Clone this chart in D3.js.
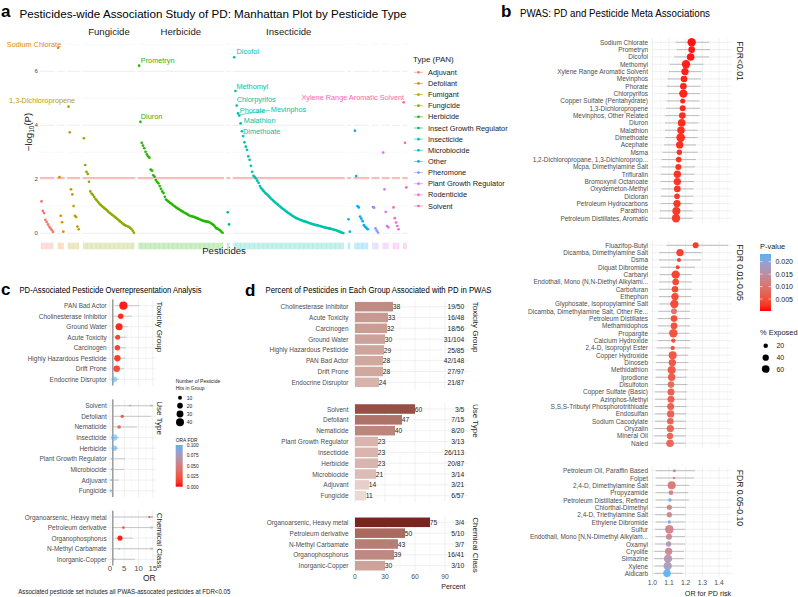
<!DOCTYPE html>
<html><head><meta charset="utf-8">
<script src="https://cdn.jsdelivr.net/npm/d3@7"></script>
<style>
body{margin:0;background:#fff}
svg{display:block}
text{font-family:"Liberation Sans",Arial,Helvetica,sans-serif}
</style>
</head><body>
<svg id="chart" width="798" height="597"></svg>
<script>
// ===================== DATA =====================
// Panel a: Manhattan plot, -log10(P) per pesticide, grouped by PAN type
const typeNames = ["Adjuvant","Defoliant","Fumigant","Fungicide","Herbicide","Insect Growth Regulator","Insecticide","Microbiocide","Other","Pheromone","Plant Growth Regulator","Rodenticide","Solvent"];
const typeColors = ["#F8766D","#E18A00","#BE9C00","#8CAB00","#24B700","#00BE70","#00C1AB","#00BBDA","#00ACFC","#8B93FF","#D575FE","#F962DD","#FF65AC"];
const logpAdjuvant = [1.18,0.83,0.75,0.5,0.42,0.33,0.25,0.18,0.12,0.05];
const logpDefoliant = [6.87,2.08,0.65,0.41,0.06];
const logpFumigant = [4.69,3.74,1.63,1.44,1.01,0.65,0.6,0.25,0.15];
const logpFungicide = [3.52,2.53,2.28,2.2,1.91,1.55,1.47,1.42,1.35,1.28,1.22,1.16,1.1,1.05,1.01,0.97,0.93,0.89,0.85,0.8,0.76,0.72,0.68,0.65,0.61,0.57,0.53,0.49,0.45,0.41,0.37,0.33,0.3,0.28,0.26,0.24,0.2,0.16,0.09,0.02];
const logpHerbicide = [6.21,4.13,3.35,3.25,3.15,3.02,2.92,2.85,2.8,2.36,2.32,2.15,2.1,1.97,1.91,1.85,1.75,1.65,1.55,1.49,1.35,1.25,1.21,1.17,1.13,1.1,1.06,1.02,0.99,0.95,0.92,0.89,0.86,0.83,0.8,0.77,0.75,0.72,0.69,0.66,0.64,0.63,0.62,0.6,0.58,0.56,0.54,0.52,0.5,0.48,0.46,0.45,0.44,0.43,0.42,0.4,0.37,0.34,0.3,0.25,0.19,0.17,0.14,0.11,0.06,0.02];
const logpIGR = [0.78,0.33];
const logpInsecticide = [6.52,5.27,4.73,4.44,4.36,4.07,3.78,3.6,3.37,3.21,3.09,2.85,2.72,2.5,2.28,2.13,2.08,2.03,1.95,1.87,1.75,1.67,1.62,1.56,1.5,1.46,1.42,1.37,1.32,1.27,1.23,1.18,1.14,1.1,1.06,1.02,0.98,0.94,0.9,0.87,0.83,0.79,0.76,0.73,0.69,0.66,0.63,0.6,0.57,0.55,0.53,0.51,0.49,0.47,0.45,0.44,0.42,0.41,0.39,0.37,0.36,0.34,0.33,0.31,0.3,0.29,0.28,0.27,0.25,0.24,0.22,0.21,0.2,0.19,0.18,0.17,0.16,0.14,0.13,0.12,0.1,0.08,0.06,0.04,0.02,0.01];
const logpMicrobiocide = [0.52,0.06];
const logpOther = [3.8,2.12,1.01,0.96,0.62,0.54,0.45,0.3,0.24,0.2,0.15];
const logpPheromone = [0.97,0.95,0.18,0.1,0.03];
const logpPGR = [2.99,1.63,0.79,0.27,0.22];
const logpRodenticide = [0.96,0.56,0.4,0.27,0.15];
const logpSolvent = [4.85,3.35,1.7];
const manhattanThreshold = 2.05;
const facetLabels = ["Fungicide","Herbicide","Insecticide"];
const yTicksA = [0,2,4,6];
// labelled pesticides: [type, index in type, name]
const labelType = ["Defoliant","Fumigant","Herbicide","Herbicide","Insecticide","Insecticide","Insecticide","Insecticide","Insecticide","Insecticide","Insecticide","Solvent"];
const labelIndex = [0,0,0,1,0,1,2,3,4,5,6,0];
const labelText = ["Sodium Chlorate","1,3-Dichloropropene","Prometryn","Diuron","Dicofol","Methomyl","Chlorpyrifos","Phorate","Mevinphos","Malathion","Dimethoate","Xylene Range Aromatic Solvent"];

// Panel b: PWAS meta associations
const fdr1Names = ["Sodium Chlorate","Prometryn","Dicofol","Methomyl","Xylene Range Aromatic Solvent","Mevinphos","Phorate","Chlorpyrifos","Copper Sulfate (Pentahydrate)","1,3-Dichloropropene","Mevinphos, Other Related","Diuron","Malathion","Dimethoate","Acephate","Msma","1,2-Dichloropropane, 1,3-Dichloroprop...","Mcpa, Dimethylamine Salt","Trifluralin","Bromoxynil Octanoate","Oxydemeton-Methyl","Dicloran","Petroleum Hydrocarbons","Parathion","Petroleum Distillates, Aromatic"];
const fdr1OR = [1.236,1.236,1.230,1.202,1.196,1.190,1.186,1.186,1.182,1.182,1.180,1.176,1.172,1.170,1.164,1.162,1.158,1.156,1.150,1.150,1.150,1.148,1.148,1.144,1.142];
const fdr1Lo = [1.140,1.146,1.132,1.106,1.100,1.092,1.086,1.092,1.086,1.082,1.076,1.076,1.076,1.076,1.070,1.062,1.056,1.056,1.050,1.050,1.056,1.052,1.050,1.046,1.042];
const fdr1Hi = [1.340,1.346,1.340,1.306,1.296,1.292,1.290,1.286,1.282,1.286,1.282,1.276,1.272,1.272,1.262,1.272,1.262,1.256,1.252,1.250,1.246,1.246,1.242,1.242,1.242];
const fdr1Exposed = [70,44,58,70,54,44,44,70,25,36,44,58,58,75,54,29,32,36,54,54,44,32,54,64,70];
const fdr1P = [0.0002,0.0003,0.0003,0.0005,0.0005,0.0006,0.0006,0.0007,0.0008,0.0008,0.0009,0.0009,0.001,0.001,0.0011,0.0012,0.0012,0.0013,0.0013,0.0014,0.0014,0.0015,0.0015,0.0016,0.0016];

const fdr2Names = ["Fluazifop-Butyl","Dicamba, Dimethylamine Salt","Dsma","Diquat Dibromide","Carbaryl","Endothall, Mono (N,N-Diethyl Alkylami...","Carbofuran","Ethephon","Glyphosate, Isopropylamine Salt","Dicamba, Dimethylamine Salt, Other Re...","Petroleum Distillates","Methamidophos","Propargite","Calcium Hydroxide","2,4-D, Isopropyl Ester","Copper Hydroxide","Dinoseb","Methidathion","Iprodione","Disulfoton","Copper Sulfate (Basic)","Azinphos-Methyl","S,S,S-Tributyl Phosphorotrithioate","Endosulfan","Sodium Cacodylate","Oryzalin","Mineral Oil","Naled"];
const fdr2OR = [1.260,1.166,1.160,1.152,1.140,1.140,1.136,1.136,1.132,1.130,1.130,1.130,1.126,1.126,1.122,1.122,1.120,1.116,1.116,1.112,1.112,1.112,1.110,1.110,1.108,1.108,1.106,1.106];
const fdr2Lo = [1.086,1.042,1.040,1.050,1.046,1.042,1.040,1.040,1.042,1.036,1.032,1.032,1.032,1.032,1.026,1.026,1.022,1.020,1.020,1.020,1.016,1.016,1.016,1.016,1.016,1.012,1.012,1.012];
const fdr2Hi = [1.455,1.296,1.290,1.256,1.236,1.236,1.236,1.232,1.226,1.226,1.226,1.226,1.222,1.226,1.226,1.216,1.216,1.210,1.206,1.210,1.206,1.206,1.206,1.202,1.202,1.202,1.200,1.200];
const fdr2Exposed = [36,54,16,16,70,44,44,54,70,36,44,44,70,19,19,64,54,64,54,44,49,49,49,54,44,54,40,58];
const fdr2P = [0.0017,0.002,0.0021,0.0023,0.0025,0.0027,0.0028,0.003,0.0031,0.009,0.0034,0.0036,0.0038,0.004,0.0042,0.0043,0.0045,0.0047,0.0049,0.0075,0.0052,0.0054,0.0056,0.0058,0.006,0.0062,0.0064,0.0066];

const fdr3Names = ["Petroleum Oil, Paraffin Based","Folpet","2,4-D, Dimethylamine Salt","Propyzamide","Petroleum Distillates, Refined","Chlorthal-Dimethyl","2,4-D, Triethylamine Salt","Ethylene Dibromide","Sulfur","Endothall, Mono [N,N-Dimethyl Alkylam...","Oxamyl","Cryolite","Simazine","Xylene","Aldicarb"];
const fdr3OR = [1.132,1.130,1.116,1.112,1.106,1.102,1.102,1.102,1.102,1.100,1.098,1.098,1.094,1.092,1.088];
const fdr3Lo = [1.020,1.020,1.020,1.020,1.020,1.020,1.016,1.020,1.016,1.020,1.016,1.012,1.012,1.012,1.012];
const fdr3Hi = [1.256,1.250,1.220,1.216,1.220,1.200,1.200,1.196,1.196,1.196,1.196,1.190,1.190,1.190,1.182];
const fdr3Exposed = [9,6,64,22,11,28,28,11,75,36,28,54,70,70,58];
const fdr3P = [0.013,0.013,0.010,0.012,0.022,0.013,0.013,0.021,0.012,0.013,0.017,0.013,0.016,0.018,0.023];
const fdrStrips = ["FDR<0.01","FDR 0.01-0.05","FDR 0.05-0.10"];
const orTicksB = [1.0,1.1,1.2,1.3,1.4];
const pLegendTicks = [0.005,0.010,0.015,0.020];
const exposedLegend = [20,40,60];

// Panel c: ORA
const oraToxNames = ["PAN Bad Actor","Cholinesterase Inhibitor","Ground Water","Acute Toxicity","Carcinogen","Highly Hazardous Pesticide","Drift Prone","Endocrine Disruptor"];
const oraToxOR = [4.7,3.75,3.2,2.7,2.6,2.6,2.35,1.5];
const oraToxLo = [1.8,1.5,1.7,1.3,1.3,1.4,1.3,0.8];
const oraToxHi = [10.3,7.6,6.2,5.9,5.5,5.3,4.9,3.2];
const oraToxHits = [42,19,31,16,18,25,27,21];
const oraToxFDR = [0.001,0.003,0.002,0.01,0.01,0.008,0.012,0.1];
const oraUseNames = ["Solvent","Defoliant","Nematicide","Insecticide","Herbicide","Plant Growth Regulator","Microbiocide","Adjuvant","Fungicide"];
const oraUseOR = [7.0,4.3,3.2,1.5,1.5,0.8,0.7,0.5,0.4];
const oraUseLo = [0.6,1.0,0.9,0.8,0.8,0.2,0.15,0.1,0.1];
const oraUseHi = [15,14.4,9.4,3.2,2.8,5.3,4.9,3.0,1.2];
const oraUseHits = [3,7,8,26,20,3,3,3,6];
const oraUseFDR = [0.085,0.02,0.03,0.1,0.1,0.1,0.1,0.1,0.1];
const oraChemNames = ["Organoarsenic, Heavy metal","Petroleum derivative","Organophosphorus","N-Methyl Carbamate","Inorganic-Copper"];
const oraChemOR = [13.8,4.7,3.5,3.2,1.3];
const oraChemLo = [1.2,1.1,1.7,0.5,0.3];
const oraChemHi = [15,15,8.0,15,8.8];
const oraChemHits = [3,5,16,3,3];
const oraChemFDR = [0.02,0.025,0.001,0.09,0.1];
const oraStrips = ["Toxicity Group","Use Type","Chemical Class"];
const orTicksC = [0,5,10,15];
const hitsLegend = [10,20,30,40];
const fdrLegendTicks = [0,0.025,0.05,0.075,0.1];

// Panel d: percent of pesticides associated
const pctToxNames = ["Cholinesterase Inhibitor","Acute Toxicity","Carcinogen","Ground Water","Highly Hazardous Pesticide","PAN Bad Actor","Drift Prone","Endocrine Disruptor"];
const pctToxVals = [38,33,32,30,29,28,28,24];
const pctToxFrac = ["19/50","16/48","18/56","31/104","25/85","42/148","27/97","21/87"];
const pctUseNames = ["Solvent","Defoliant","Nematicide","Plant Growth Regulator","Insecticide","Herbicide","Microbiocide","Adjuvant","Fungicide"];
const pctUseVals = [60,47,40,23,23,23,21,14,11];
const pctUseFrac = ["3/5","7/15","8/20","3/13","26/113","20/87","3/14","3/21","6/57"];
const pctChemNames = ["Organoarsenic, Heavy metal","Petroleum derivative","N-Methyl Carbamate","Organophosphorus","Inorganic-Copper"];
const pctChemVals = [75,50,43,39,30];
const pctChemFrac = ["3/4","5/10","3/7","16/41","3/10"];
const pctTicks = [0,30,60,90];

// ===================== HELPERS =====================
const svg = d3.select("#chart");
function txt(g, x, y, s, o = {}) {
  const t = g.append("text").text(s)
    .attr("transform", `translate(${x},${y})` + (o.rot ? ` rotate(${o.rot})` : "") + (o.sx ? ` scale(${o.sx},1)` : ""))
    .attr("font-size", o.size || 7)
    .attr("fill", o.fill || "#4d4d4d")
    .attr("text-anchor", o.anchor || "start")
    .attr("dy", o.dy !== undefined ? o.dy : "0.35em");
  if (o.weight) t.attr("font-weight", o.weight);
  if (o.len) t.attr("textLength", o.len).attr("lengthAdjust", "spacingAndGlyphs");
  return t;
}
const GRID = "#e6e6e6", GRID2 = "#f1f1f1";

// ===================== PANEL A =====================
(function () {
  const g = svg.append("g");
  const valueSets = [logpAdjuvant, logpDefoliant, logpFumigant, logpFungicide, logpHerbicide, logpIGR, logpInsecticide, logpMicrobiocide, logpOther, logpPheromone, logpPGR, logpRodenticide, logpSolvent];
  const GAP = 3;
  let slot = 0;
  const groups = [], pts = [];
  valueSets.forEach((vals, gi) => {
    const grp = { name: typeNames[gi], color: typeColors[gi], start: slot };
    vals.forEach((v, j) => { pts.push({ gi, slot, v, j }); slot++; });
    grp.end = slot - 1; groups.push(grp); slot += GAP;
  });
  const total = slot - GAP;
  const x = d3.scaleLinear().domain([0, total - 1]).range([41.5, 406.3]);
  const unit = x(1) - x(0);
  const y = d3.scaleLinear().domain([0, 6]).range([233.3, 71.3]);

  groups.forEach(gr => {
    const x0 = x(gr.start) - unit * 1.1, x1 = x(gr.end) + unit * 1.1;
    d3.range(0, 8).forEach(v => {
      g.append("line").attr("x1", x0).attr("x2", x1).attr("y1", y(v)).attr("y2", y(v))
        .attr("stroke", v % 2 === 0 ? GRID : GRID2).attr("stroke-width", v % 2 === 0 ? 0.7 : 0.45);
    });
    g.append("line").attr("x1", x0).attr("x2", x1).attr("y1", y(manhattanThreshold)).attr("y2", y(manhattanThreshold))
      .attr("stroke", "#ff4040").attr("stroke-width", 0.8).attr("opacity", 0.85);
  });
  facetLabels.forEach(n => {
    const gr = groups.find(d => d.name === n);
    txt(g, (x(gr.start) + x(gr.end)) / 2, 32, n, { size: 9.6, fill: "#1a1a1a", anchor: "middle" });
  });
  g.selectAll("rect.tile").data(pts).enter().append("rect")
    .attr("x", d => x(d.slot) - unit / 2).attr("width", unit * 0.82)
    .attr("y", 242.7).attr("height", 6.6)
    .attr("fill", d => typeColors[d.gi]).attr("opacity", 0.3);
  g.selectAll("circle.pt").data(pts).enter().append("circle")
    .attr("cx", d => x(d.slot)).attr("cy", d => y(d.v)).attr("r", 1.35)
    .attr("fill", d => typeColors[d.gi]);
  yTicksA.forEach(v => txt(g, 38, y(v), String(v), { size: 6.2, anchor: "end" }));
  const yl = g.append("text").attr("transform", "translate(29,132) rotate(-90)")
    .attr("text-anchor", "middle").attr("font-size", 9.6).attr("fill", "#1a1a1a").attr("dy", "0.35em");
  yl.append("tspan").text("\u2212log");
  yl.append("tspan").text("10").attr("font-size", 6.5).attr("dy", "0.3em");
  yl.append("tspan").text("(P)").attr("dy", "-0.3em");
  txt(g, 224, 250.5, "Pesticides", { size: 9.6, fill: "#1a1a1a", anchor: "middle" });
  const offs = [[3, -3.7, "end"], [6.7, -6, "end"], [1.7, -4.7, "start"], [0.4, -5, "start"], [2.4, -5.6, "start"], [1, -5, "start"], [0, -5.7, "start"], [1.8, -3.3, "start"], [31.5, -5.7, "start"], [3.2, -3.3, "start"], [1.2, 0.4, "start"], [0.3, -5, "end"]];
  labelText.forEach((s, i) => {
    const gi = typeNames.indexOf(labelType[i]);
    const p = pts.find(d => d.gi === gi && d.j === labelIndex[i]);
    const px = x(p.slot), py = y(p.v);
    const [dx, dy, an] = offs[i];
    if (s === "Mevinphos") {
      g.append("line").attr("x1", px + 1).attr("y1", py - 1).attr("x2", px + dx - 1).attr("y2", py + dy + 0.5)
        .attr("stroke", typeColors[gi]).attr("stroke-width", 0.6);
    }
    txt(g, px + dx, py + dy, s, { size: 7.3, fill: typeColors[gi], anchor: an });
  });
  txt(g, 413, 58.7, "Type (PAN)", { size: 8, fill: "#1a1a1a" });
  typeNames.forEach((n, i) => {
    const ly = 72.3 + i * 11.14;
    g.append("line").attr("x1", 414).attr("x2", 423).attr("y1", ly).attr("y2", ly).attr("stroke", typeColors[i]).attr("stroke-width", 0.6);
    g.append("circle").attr("cx", 418.5).attr("cy", ly).attr("r", 1.35).attr("fill", typeColors[i]);
    txt(g, 428, ly, n, { size: 7.4, fill: "#1a1a1a" });
  });
  txt(g, 19.5, 14, "Pesticides-wide Association Study of PD: Manhattan Plot by Pesticide Type", { size: 10.5, fill: "#000", len: 387 });
  txt(g, 1, 11, "a", { size: 17, fill: "#000", weight: "bold" });
})();

// ===================== PANEL B =====================
(function () {
  const g = svg.append("g");
  const x = d3.scaleLinear().domain([0.995, 1.478]).range([651.5, 732]);
  const pCol = d3.scaleLinear().domain([0.0002, 0.0231]).range(["#FF0000", "#56B1F7"]).interpolate(d3.interpolateLab);
  const rS = p => 0.5 * Math.sqrt(p);
  const panels = [
    { names: fdr1Names, or: fdr1OR, lo: fdr1Lo, hi: fdr1Hi, ex: fdr1Exposed, p: fdr1P, y0: 42.3 },
    { names: fdr2Names, or: fdr2OR, lo: fdr2Lo, hi: fdr2Hi, ex: fdr2Exposed, p: fdr2P, y0: 245.3 },
    { names: fdr3Names, or: fdr3OR, lo: fdr3Lo, hi: fdr3Hi, ex: fdr3Exposed, p: fdr3P, y0: 470.7 }
  ];
  const step = 7.33;
  panels.forEach((pn, k) => {
    const n = pn.names.length;
    const y = d3.scalePoint().domain(pn.names).range([pn.y0, pn.y0 + (n - 1) * step]);
    const top = pn.y0 - 0.6 * step, bot = pn.y0 + (n - 1) * step + 0.6 * step;
    d3.range(1.0, 1.4501, 0.05).forEach((v, i) => {
      g.append("line").attr("x1", x(v)).attr("x2", x(v)).attr("y1", top).attr("y2", bot)
        .attr("stroke", i % 2 === 0 ? GRID : GRID2).attr("stroke-width", i % 2 === 0 ? 0.6 : 0.4);
    });
    pn.names.forEach(nm => {
      g.append("line").attr("x1", x.range()[0]).attr("x2", x.range()[1]).attr("y1", y(nm)).attr("y2", y(nm))
        .attr("stroke", GRID).attr("stroke-width", 0.6);
      txt(g, 648, y(nm), nm, { size: 7.2, sx: 0.9, anchor: "end" });
    });
    pn.names.forEach((nm, i) => {
      g.append("line").attr("x1", x(pn.lo[i])).attr("x2", x(pn.hi[i])).attr("y1", y(nm)).attr("y2", y(nm))
        .attr("stroke", "#a6a6a6").attr("stroke-width", 0.7);
    });
    pn.names.forEach((nm, i) => {
      g.append("circle").attr("cx", x(pn.or[i])).attr("cy", y(nm)).attr("r", rS(pn.ex[i]))
        .attr("fill", pCol(pn.p[i])).attr("opacity", 0.92);
    });
    txt(g, 740, pn.y0 - 1, fdrStrips[k], { size: 8.6, fill: "#1a1a1a", rot: 90 });
  });
  orTicksB.forEach(v => txt(g, x(v), 582.7, v.toFixed(1), { size: 7.5, anchor: "middle", sx: 0.9 }));
  txt(g, 708, 592.7, "OR for PD risk", { size: 8, fill: "#1a1a1a", anchor: "middle", sx: 0.9 });
  const defs = svg.append("defs");
  const grad = defs.append("linearGradient").attr("id", "pgrad").attr("x1", 0).attr("y1", 1).attr("x2", 0).attr("y2", 0);
  d3.range(0, 1.0001, 0.1).forEach(t => grad.append("stop").attr("offset", t).attr("stop-color", pCol(0.0002 + t * (0.0231 - 0.0002))));
  const ly = d3.scaleLinear().domain([0.0002, 0.0231]).range([311, 254]);
  txt(g, 760, 245.7, "P-value", { size: 8, fill: "#1a1a1a", sx: 0.93 });
  g.append("rect").attr("x", 760).attr("y", 254).attr("width", 11).attr("height", 57).attr("fill", "url(#pgrad)");
  pLegendTicks.forEach(v => {
    g.append("line").attr("x1", 760).attr("x2", 762.5).attr("y1", ly(v)).attr("y2", ly(v)).attr("stroke", "#fff").attr("stroke-width", 0.6);
    g.append("line").attr("x1", 768.5).attr("x2", 771).attr("y1", ly(v)).attr("y2", ly(v)).attr("stroke", "#fff").attr("stroke-width", 0.6);
    txt(g, 775.5, ly(v), v.toFixed(3), { size: 7.5, fill: "#1a1a1a", sx: 0.93 });
  });
  txt(g, 760, 331.7, "% Exposed", { size: 8, fill: "#1a1a1a", sx: 0.93 });
  exposedLegend.forEach((v, i) => {
    const yy = [345.7, 357.7, 369][i];
    g.append("circle").attr("cx", 765.7).attr("cy", yy).attr("r", rS(v)).attr("fill", "#000");
    txt(g, 776.5, yy, String(v), { size: 7.5, fill: "#1a1a1a", sx: 0.93 });
  });
  txt(g, 520, 13, "PWAS: PD and Pesticide Meta Associations", { size: 10, fill: "#000", len: 190 });
  txt(g, 501, 11, "b", { size: 17, fill: "#000", weight: "bold" });
})();

// ===================== PANEL C =====================
(function () {
  const g = svg.append("g");
  const x = d3.scaleLinear().domain([-0.7, 16.2]).range([108, 156.2]);
  const fCol = d3.scaleLinear().domain([0, 0.1]).range(["#FF0000", "#56B1F7"]).interpolate(d3.interpolateLab);
  const rS = n => 0.632 * Math.sqrt(n);
  const defs = svg.append("defs");
  const ah = defs.append("marker").attr("id", "arr").attr("viewBox", "0 0 10 10").attr("refX", 9).attr("refY", 5)
    .attr("markerWidth", 4).attr("markerHeight", 4).attr("orient", "auto-start-reverse");
  ah.append("path").attr("d", "M0,1 L10,5 L0,9").attr("fill", "none").attr("stroke", "#999").attr("stroke-width", 1.5);
  const panels = [
    { names: oraToxNames, or: oraToxOR, lo: oraToxLo, hi: oraToxHi, n: oraToxHits, f: oraToxFDR, r: [305.7, 379.3] },
    { names: oraUseNames, or: oraUseOR, lo: oraUseLo, hi: oraUseHi, n: oraUseHits, f: oraUseFDR, r: [405.7, 490.7] },
    { names: oraChemNames, or: oraChemOR, lo: oraChemLo, hi: oraChemHi, n: oraChemHits, f: oraChemFDR, r: [517, 559.3] }
  ];
  panels.forEach((pn, k) => {
    const y = d3.scalePoint().domain(pn.names).range(pn.r);
    const st = y.step();
    const top = pn.r[0] - 0.6 * st, bot = pn.r[1] + 0.6 * st;
    d3.range(0, 15.01, 2.5).forEach((v, i) => {
      g.append("line").attr("x1", x(v)).attr("x2", x(v)).attr("y1", top).attr("y2", bot)
        .attr("stroke", i % 2 === 0 ? GRID : GRID2).attr("stroke-width", i % 2 === 0 ? 0.6 : 0.4);
    });
    pn.names.forEach(nm => {
      g.append("line").attr("x1", x.range()[0]).attr("x2", x.range()[1]).attr("y1", y(nm)).attr("y2", y(nm)).attr("stroke", GRID).attr("stroke-width", 0.6);
      txt(g, 106.7, y(nm), nm, { size: 7.2, sx: 0.9, anchor: "end" });
    });
    g.append("line").attr("x1", x(1)).attr("x2", x(1)).attr("y1", top).attr("y2", bot).attr("stroke", "#444").attr("stroke-width", 0.8);
    pn.names.forEach((nm, i) => {
      const l = g.append("line").attr("x1", x(pn.lo[i])).attr("x2", x(Math.min(pn.hi[i], 15))).attr("y1", y(nm)).attr("y2", y(nm))
        .attr("stroke", "#b3b3b3").attr("stroke-width", 0.7);
      if (pn.hi[i] >= 15) l.attr("marker-end", "url(#arr)");
    });
    pn.names.forEach((nm, i) => {
      g.append("circle").attr("cx", x(pn.or[i])).attr("cy", y(nm)).attr("r", rS(pn.n[i]))
        .attr("fill", fCol(pn.f[i])).attr("opacity", pn.f[i] >= 0.08 ? 0.55 : 0.92);
    });
    txt(g, 160, top + 2, oraStrips[k], { size: 8, fill: "#1a1a1a", rot: 90 });
  });
  orTicksC.forEach(v => txt(g, x(v), 568.3, String(v), { size: 7.8, anchor: "middle" }));
  txt(g, 149.3, 578.5, "OR", { size: 8.5, fill: "#1a1a1a", anchor: "middle" });
  txt(g, 175.7, 380.7, "Number of Pesticide", { size: 5.5, fill: "#1a1a1a", sx: 0.9 });
  txt(g, 175.7, 387.7, "Hits in Group", { size: 5.5, fill: "#1a1a1a", sx: 0.9 });
  hitsLegend.forEach((v, i) => {
    const yy = [397.7, 405.7, 414, 422.3][i];
    g.append("circle").attr("cx", 180).attr("cy", yy).attr("r", rS(v)).attr("fill", "#000");
    txt(g, 186.7, yy, String(v), { size: 5.5, fill: "#1a1a1a", sx: 0.9 });
  });
  txt(g, 175.7, 440, "ORA FDR", { size: 5.5, fill: "#1a1a1a", sx: 0.9 });
  const grad = defs.append("linearGradient").attr("id", "fgrad").attr("x1", 0).attr("y1", 1).attr("x2", 0).attr("y2", 0);
  d3.range(0, 1.0001, 0.1).forEach(t => grad.append("stop").attr("offset", t).attr("stop-color", fCol(t * 0.1)));
  const ly = d3.scaleLinear().domain([0, 0.1]).range([486.7, 445]);
  g.append("rect").attr("x", 175.7).attr("y", 445).attr("width", 7).attr("height", 41.7).attr("fill", "url(#fgrad)");
  fdrLegendTicks.forEach(v => txt(g, 186.7, ly(v), v.toFixed(3), { size: 5.3, fill: "#1a1a1a", sx: 0.9 }));
  txt(g, 18.3, 591.7, "Associated pesticide set includes all PWAS-assocated pesticides at FDR<0.05", { size: 7, fill: "#1a1a1a", len: 212 });
  txt(g, 19.5, 290, "PD-Associated Pesticide Overrepresentation Analysis", { size: 8.3, fill: "#000", len: 182 });
  txt(g, 1, 289, "c", { size: 17, fill: "#000", weight: "bold" });
})();

// ===================== PANEL D =====================
(function () {
  const g = svg.append("g");
  const x = d3.scaleLinear().domain([-1, 113]).range([354, 468]);
  const bCol = d3.scaleLinear().domain([10, 75]).range(["#eddcd8", "#7a2420"]).interpolate(d3.interpolateLab);
  const panels = [
    { names: pctToxNames, v: pctToxVals, f: pctToxFrac, r: [306.7, 382.3] },
    { names: pctUseNames, v: pctUseVals, f: pctUseFrac, r: [409, 495.7] },
    { names: pctChemNames, v: pctChemVals, f: pctChemFrac, r: [522.3, 565.7] }
  ];
  panels.forEach((pn, k) => {
    const n = pn.names.length;
    const stp = (pn.r[1] - pn.r[0]) / (n - 1);
    const y = d3.scaleBand().domain(pn.names).range([pn.r[0] - stp / 2, pn.r[1] + stp / 2]).paddingInner(0.12).paddingOuter(0.06);
    const top = pn.r[0] - 0.6 * stp, bot = pn.r[1] + 0.6 * stp;
    d3.range(0, 106, 15).forEach((v, i) => {
      g.append("line").attr("x1", x(v)).attr("x2", x(v)).attr("y1", top).attr("y2", bot)
        .attr("stroke", i % 2 === 0 ? GRID : GRID2).attr("stroke-width", i % 2 === 0 ? 0.6 : 0.4);
    });
    pn.names.forEach(nm => {
      const cy = y(nm) + y.bandwidth() / 2;
      g.append("line").attr("x1", x.range()[0]).attr("x2", x.range()[1]).attr("y1", cy).attr("y2", cy).attr("stroke", GRID).attr("stroke-width", 0.6);
      txt(g, 348.5, cy, nm, { size: 7.2, sx: 0.9, anchor: "end" });
    });
    pn.names.forEach((nm, i) => {
      const cy = y(nm) + y.bandwidth() / 2;
      g.append("rect").attr("x", x(0)).attr("y", y(nm)).attr("width", x(pn.v[i]) - x(0)).attr("height", y.bandwidth())
        .attr("fill", bCol(pn.v[i]));
      txt(g, x(pn.v[i]) - 0.3, cy, String(pn.v[i]), { size: 7.5, fill: "#262626", sx: 0.9 });
      txt(g, 464.3, cy, pn.f[i], { size: 7.5, fill: "#262626", anchor: "end", sx: 0.9 });
    });
    txt(g, 476, top + 1.5, oraStrips[k], { size: 8, fill: "#1a1a1a", rot: 90 });
  });
  pctTicks.forEach(v => txt(g, x(v), 576.7, String(v), { size: 7.5, anchor: "middle", sx: 0.9 }));
  txt(g, 453.3, 586, "Percent", { size: 7.8, fill: "#1a1a1a", anchor: "middle", sx: 0.9 });
  txt(g, 265.5, 290, "Percent of Pesticides in Each Group Associated with PD in PWAS", { size: 8.3, fill: "#000", len: 226 });
  txt(g, 245, 290, "d", { size: 17, fill: "#000", weight: "bold" });
})();
</script>
</body></html>
